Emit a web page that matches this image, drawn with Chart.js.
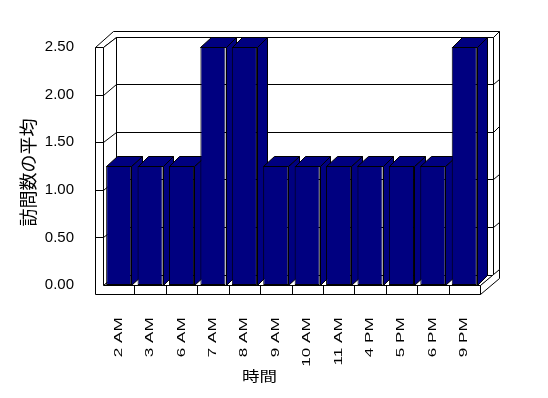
<!DOCTYPE html>
<html>
<head>
<meta charset="utf-8">
<script src="https://cdn.jsdelivr.net/npm/chart.js@4/dist/chart.umd.min.js"></script>
<style>
html,body{margin:0;padding:0;background:#ffffff;}
#wrap{width:548px;height:398px;position:relative;}
</style>
</head>
<body>
<div id="wrap"><canvas id="c" width="548" height="398"></canvas></div>
<script>
// ---- data ----
const categories = ['2 AM','3 AM','6 AM','7 AM','8 AM','9 AM','10 AM','11 AM','4 PM','5 PM','6 PM','9 PM'];
const averageVisits = [1.25,1.25,1.25,2.5,2.5,1.25,1.25,1.25,1.25,1.25,1.25,2.5];
const yTickValues = [0,0.5,1,1.5,2,2.5];
const xAxisTitle = '時間';
const yAxisTitle = '訪問数の平均';

// ---- style ----
const NAVY = '#000080';
const WALL_DX = 12.5, WALL_DY = 10.5, BACK_T = 0.5;
const LEFT_T = 8.5, FLOOR_T = 9;
const BAR_DX = 10.5, BAR_DY = 10;
const X_LABEL_STRETCH = 1.55;
const X_TITLE_SHIFT = -32, X_TITLE_STRETCH = 1.25;
const Y_TITLE_SHIFT = 6.5;

function snap(v){ return Math.round(v) + 0.5; }

const frame3d = {
  id: 'frame3d',
  afterLayout(chart){
    const xs = chart.scales.x, ys = chart.scales.y;
    if (!xs._patched3d){
      xs._patched3d = true;
      const dl = xs.drawLabels, dt = xs.drawTitle;
      xs.drawLabels = function(ca){
        const c = this.ctx; const y0 = this.top + this.options.ticks.padding;
        c.save(); c.translate(0, y0); c.scale(1, X_LABEL_STRETCH); c.translate(0, -y0);
        dl.call(this, ca); c.restore();
      };
      xs.drawTitle = function(){
        const c = this.ctx; const cx0 = (this.left + this.right)/2; const cx1 = cx0 + X_TITLE_SHIFT;
        c.save(); c.translate(cx1, 0); c.scale(X_TITLE_STRETCH, 1); c.translate(-cx0, 0);
        dt.call(this); c.restore();
      };
    }
    if (!ys._patched3d){
      ys._patched3d = true;
      const dt = ys.drawTitle;
      ys.drawTitle = function(){
        const c = this.ctx; c.save(); c.translate(0, Y_TITLE_SHIFT); dt.call(this); c.restore();
      };
    }
  },
  beforeDatasetsDraw(chart){
    const {ctx, chartArea} = chart;
    const L = chartArea.left, R = chartArea.right, T = chartArea.top, B = chartArea.bottom;
    const ys = chart.scales.y;
    const dx = WALL_DX, dy = WALL_DY, f = 1 + BACK_T;
    const oL = L - LEFT_T, fB = B + FLOOR_T;
    ctx.save();
    ctx.lineWidth = 1; ctx.strokeStyle = '#000'; ctx.lineJoin = 'miter';
    const poly = (pts, fill) => {
      ctx.beginPath();
      pts.forEach((p,i) => { const X = snap(p[0]), Y = snap(p[1]); i ? ctx.lineTo(X,Y) : ctx.moveTo(X,Y); });
      ctx.closePath(); ctx.fillStyle = fill; ctx.fill(); ctx.stroke();
    };
    const seg = (a,b) => { ctx.beginPath(); ctx.moveTo(snap(a[0]),snap(a[1])); ctx.lineTo(snap(b[0]),snap(b[1])); ctx.stroke(); };
    const inner = yTickValues.filter(v => v > ys.min && v < ys.max).map(v => ys.getPixelForValue(v));
    // top faces (left wall + back wall)
    poly([[oL,T],[L,T],[L+dx,T-dy],[R+dx,T-dy],[R+f*dx,T-f*dy],[oL+f*dx,T-f*dy]], '#fff');
    // back wall right side
    poly([[R+dx,T-dy],[R+f*dx,T-f*dy],[R+f*dx,B-f*dy],[R+dx,B-dy]], '#fff');
    inner.forEach(yv => seg([R+dx,yv-dy],[R+f*dx,yv-f*dy]));
    // back wall face
    poly([[L+dx,T-dy],[R+dx,T-dy],[R+dx,B-dy],[L+dx,B-dy]], '#fff');
    inner.forEach(yv => seg([L+dx,yv-dy],[R+dx,yv-dy]));
    // left wall inner face
    poly([[L,T],[L+dx,T-dy],[L+dx,B-dy],[L,B]], '#fff');
    inner.forEach(yv => seg([L,yv],[L+dx,yv-dy]));
    // floor top
    poly([[L,B],[R,B],[R+dx,B-dy],[L+dx,B-dy]], '#fff');
    // floor right side
    poly([[R,B],[R+f*dx,B-f*dy],[R+f*dx,fB-f*dy],[R,fB]], '#fff');
    // front L-shaped face
    poly([[oL,T],[L,T],[L,B],[R,B],[R,fB],[oL,fB]], '#fff');
    inner.forEach(yv => seg([oL,yv],[L,yv]));
    const n = categories.length, cw = (R - L)/n;
    for (let i = 1; i < n; i++) seg([L+i*cw,B],[L+i*cw,fB]);
    // bar side and top faces
    const meta = chart.getDatasetMeta(0);
    meta.data.forEach(el => {
      const p = el.getProps(['x','y','base','width'], true);
      const l = p.x - p.width/2, r = p.x + p.width/2, t = p.y, b = p.base;
      poly([[r,t],[r+BAR_DX,t-BAR_DY],[r+BAR_DX,b-BAR_DY],[r,b]], NAVY);
      poly([[l,t],[r,t],[r+BAR_DX,t-BAR_DY],[l+BAR_DX,t-BAR_DY]], NAVY);
    });
    ctx.restore();
  }
};

Chart.defaults.color = '#000';
new Chart(document.getElementById('c'), {
  type: 'bar',
  data: {
    labels: categories,
    datasets: [{
      label: yAxisTitle,
      data: averageVisits,
      backgroundColor: NAVY,
      borderColor: '#000',
      borderWidth: 1,
      borderSkipped: false,
      barPercentage: 0.8,
      categoryPercentage: 1.0
    }]
  },
  options: {
    responsive: false,
    animation: false,
    events: [],
    layout: { padding: { top: 47, right: 68, left: 0, bottom: 0 } },
    plugins: { legend: { display: false }, tooltip: { enabled: false } },
    scales: {
      x: {
        grid: { display: false },
        border: { display: false },
        ticks: {
          autoSkip: false, maxRotation: 90, minRotation: 90, padding: 20,
          color: '#000', font: { family: "'Liberation Sans', Arial, sans-serif", size: 11 }
        },
        title: {
          display: true, text: xAxisTitle, color: '#000',
          font: { family: "'Noto Sans CJK JP', sans-serif", size: 14 },
          padding: { top: 0, bottom: 13.6 }
        },
        afterFit: (s) => { s.height = 113; }
      },
      y: {
        min: 0, max: 2.5,
        grid: { display: false },
        border: { display: false },
        afterBuildTicks: (s) => { s.ticks = yTickValues.map(v => ({ value: v })); },
        ticks: {
          padding: 21, color: '#000',
          font: { family: "'Liberation Sans', Arial, sans-serif", size: 15 },
          callback: (v) => Number(v).toFixed(2)
        },
        title: {
          display: true, text: yAxisTitle, color: '#000',
          font: { family: "'Noto Sans CJK JP', sans-serif", size: 18 },
          padding: { top: 17, bottom: 0 }
        },
        afterFit: (s) => { s.width = 103; }
      }
    }
  },
  plugins: [frame3d]
});
</script>
</body>
</html>
